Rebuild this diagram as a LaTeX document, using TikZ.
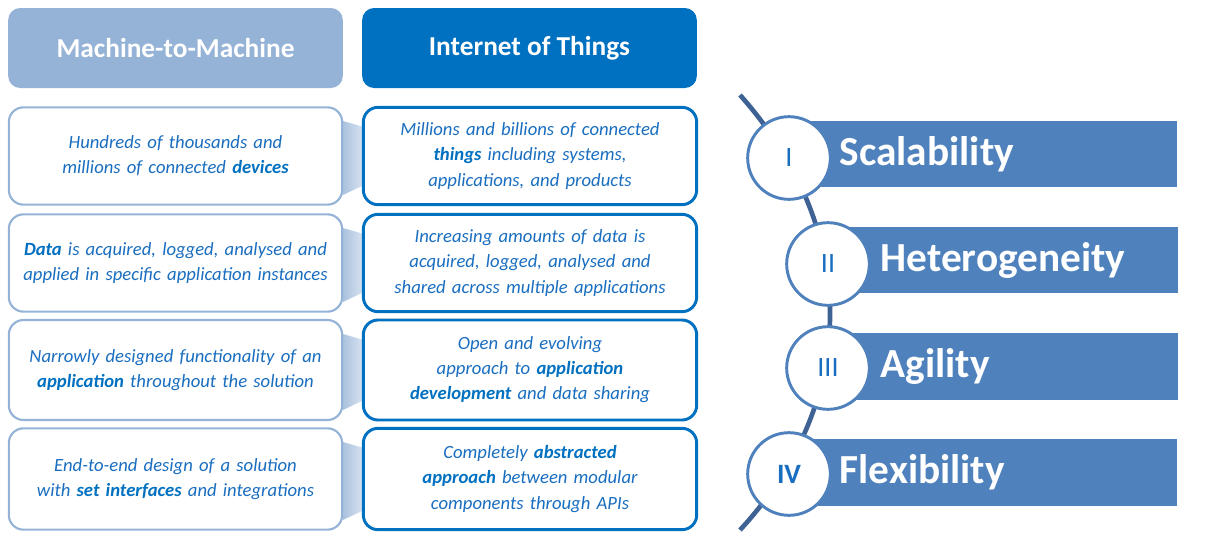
\documentclass[tikz,border=0pt]{standalone}
\usepackage{fontspec}
\setmainfont{Carlito}
\definecolor{mlight}{HTML}{95B3D7}
\definecolor{iot}{HTML}{0070C0}
\definecolor{bar}{HTML}{4F81BD}
\definecolor{txt}{HTML}{1A6EC0}
\definecolor{arcc}{HTML}{3F6294}
\begin{document}
\hyphenpenalty=10000 \exhyphenpenalty=10000
\begin{tikzpicture}[x=0.75pt,y=-0.75pt,
  head/.style={rounded corners=9pt,minimum width=251pt,minimum height=60pt,text=white,font=\bfseries\fontsize{20.5}{24}\selectfont},
  mbox/.style={draw=mlight,line width=1.6pt,fill=white,rounded corners=11pt,minimum width=250pt,text width=236pt,align=center,text=txt,font=\itshape\fontsize{14}{18.8}\selectfont},
  ibox/.style={mbox,draw=iot,line width=2.2pt},
  circ/.style={circle,draw=bar,line width=2.2pt,fill=white,minimum size=62pt,text=txt,font=\fontsize{21}{24}\selectfont},
  barbox/.style={fill=bar,minimum height=50pt,anchor=west},
  blabel/.style={anchor=west,text=white,font=\bfseries\fontsize{31}{34}\selectfont},
]
\newcommand{\kwd}[1]{\textbf{\color{iot}#1}}
\useasboundingbox (0,0) rectangle (1212,546);
\node[head,fill=mlight] (h1) at (175.5,48) {Machine-to-Machine};
\node[head,fill=iot] (h2) at (529.5,48) {Internet of Things};
\foreach \t/\b in {107/205,214/312,320/420,428/530}{
  \shade[left color=mlight!80,right color=mlight!35]
    (343,\t+14) -- (364,\t+20) -- (364,\b-20) -- (343,\b-10) -- cycle;
}
\node[mbox,minimum height=73pt] (m1) at (175.5,156) {Hundreds of thousands and millions of connected \kwd{devices}};
\node[mbox,minimum height=73pt] (m2) at (175.5,263) {\kwd{Data} is acquired, logged, analysed and applied in specific application instances};
\node[mbox,minimum height=75pt] (m3) at (175.5,370) {Narrowly designed functionality of an \kwd{application} throughout the solution};
\node[mbox,minimum height=76pt] (m4) at (175.5,479) {End-to-end design of a solution with \kwd{set interfaces} and integrations};
\node[ibox,minimum height=73pt] (i1) at (530,156) {Millions and billions of connected \kwd{things} including systems, applications, and products};
\node[ibox,minimum height=73pt] (i2) at (530,263) {Increasing amounts of data is acquired, logged, analysed and shared across multiple applications};
\node[ibox,minimum height=75pt] (i3) at (530,370) {Open and evolving approach to \kwd{application development} and data sharing};
\node[ibox,minimum height=76pt] (i4) at (530,479) {Completely \kwd{abstracted approach} between modular components through APIs};
\coordinate (ta) at (740,95);
\coordinate (tb) at (740,530);
\draw[arcc,line width=3.5pt] (ta) .. controls (860,230) and (860,400) .. (tb);
\node[barbox,minimum width=291pt] (b1) at (789,154) {};
\node[barbox,minimum width=262pt] (b2) at (828,260) {};
\node[barbox,minimum width=262pt] (b3) at (828,366.5) {};
\node[barbox,minimum width=291pt] (b4) at (789,472.5) {};
\node[blabel] (l1) at (835,154) {Scalability};
\node[blabel] (l2) at (876,260) {Heterogeneity};
\node[blabel] (l3) at (876,366.5) {Agility};
\node[blabel] (l4) at (835,472.5) {Flexibility};
\node[circ] (c1) at (789,158) {I};
\node[circ] (c2) at (828,264) {II};
\node[circ] (c3) at (828,368) {III};
\node[circ,font=\bfseries\fontsize{21}{24}\selectfont] (c4) at (789,474) {IV};
\end{tikzpicture}
\end{document}
